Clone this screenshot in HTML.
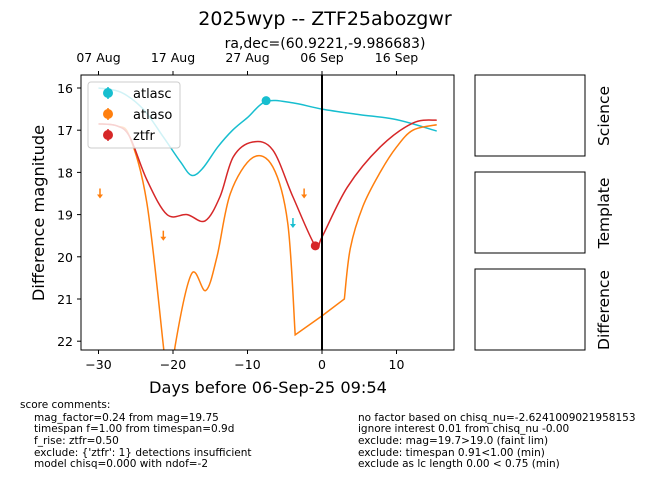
<!DOCTYPE html>
<html><head><meta charset="utf-8"><style>
body{margin:0;background:#fff;font-family:"DejaVu Sans","Liberation Sans",sans-serif;}
svg text{font-family:"DejaVu Sans","Liberation Sans",sans-serif;}
</style></head><body>
<svg id="c" width="650" height="500" viewBox="0 0 650 500" xmlns="http://www.w3.org/2000/svg">
<text x="325" y="25" font-size="19" text-anchor="middle">2025wyp -- ZTF25abozgwr</text>
<text x="325" y="48" font-size="14" text-anchor="middle">ra,dec=(60.9221,-9.986683)</text>
<defs><clipPath id="pc"><rect x="81" y="75" width="373" height="275"/></clipPath></defs>
<g id="plot" clip-path="url(#pc)"></g>
<g id="axes"></g>
<rect x="81" y="75" width="373" height="275" fill="none" stroke="#000" stroke-width="1"/>
<text x="268" y="393" font-size="16.2" text-anchor="middle">Days before 06-Sep-25 09:54</text>
<text transform="translate(44,213) rotate(-90)" font-size="16.2" text-anchor="middle">Difference magnitude</text>
<g>
<rect x="88" y="82" width="92" height="66" rx="3" fill="#fff" fill-opacity="0.8" stroke="#ccc"/>
<line x1="108" y1="87" x2="108" y2="99" stroke="#17becf" stroke-width="1.5"/><circle cx="108" cy="93" r="5" fill="#17becf"/>
<text x="133" y="98" font-size="13">atlasc</text>
<line x1="108" y1="108" x2="108" y2="120" stroke="#ff7f0e" stroke-width="1.5"/><circle cx="108" cy="114" r="5" fill="#ff7f0e"/>
<text x="133" y="119" font-size="13">atlaso</text>
<line x1="108" y1="129" x2="108" y2="141" stroke="#d62728" stroke-width="1.5"/><circle cx="108" cy="135" r="5" fill="#d62728"/>
<text x="133" y="140" font-size="13">ztfr</text>
</g>
<rect x="475" y="75" width="110" height="81" fill="none" stroke="#000"/>
<rect x="475" y="172" width="110" height="81" fill="none" stroke="#000"/>
<rect x="475" y="269" width="110" height="81" fill="none" stroke="#000"/>
<text transform="translate(609,116) rotate(-90)" font-size="15.5" text-anchor="middle">Science</text>
<text transform="translate(609,213) rotate(-90)" font-size="15.5" text-anchor="middle">Template</text>
<text transform="translate(609,310) rotate(-90)" font-size="15.5" text-anchor="middle">Difference</text>
<g font-size="10.5">
<text x="20" y="408">score comments:</text>
<text x="34" y="421">mag_factor=0.24 from mag=19.75</text>
<text x="34" y="432">timespan f=1.00 from timespan=0.9d</text>
<text x="34" y="444">f_rise: ztfr=0.50</text>
<text x="34" y="456">exclude: {'ztfr': 1} detections insufficient</text>
<text x="34" y="467">model chisq=0.000 with ndof=-2</text>
<text x="358" y="421">no factor based on chisq_nu=-2.6241009021958153</text>
<text x="358" y="432">ignore interest 0.01 from chisq_nu -0.00</text>
<text x="358" y="444">exclude: mag=19.7&gt;19.0 (faint lim)</text>
<text x="358" y="456">exclude: timespan 0.91&lt;1.00 (min)</text>
<text x="358" y="467">exclude as lc length 0.00 &lt; 0.75 (min)</text>
</g>
</svg>
<script>
const xTicks=[-30,-20,-10,0,10];
const topTickLabels=["07 Aug","17 Aug","27 Aug","06 Sep","16 Sep"];
const yTicks=[16,17,18,19,20,21,22];
const cyanX=[-30,-27,-24,-21.3,-19,-17.5,-16,-14,-12,-10,-7.5,-4,0,5,10,15.4];
const cyanY=[16.0,16.1,16.5,17.16,17.75,18.07,17.9,17.4,17.0,16.7,16.32,16.35,16.5,16.63,16.75,17.02];
const redX=[-30,-27.5,-25.8,-23.5,-20.8,-18.1,-15.7,-13.7,-11.9,-9.3,-6.6,-3.9,-0.9,0,3.4,7.8,12.2,15.4];
const redY=[16.85,16.9,17.16,18.18,19.0,19.0,19.15,18.58,17.63,17.28,17.47,18.58,19.74,19.53,18.35,17.4,16.83,16.76];
const oraX=[-30,-27.5,-25.8,-23.5,-21.3,-20.5,-19.7,-17.5,-15.6,-14.1,-12.3,-9.3,-6.6,-4.6,-3.6];
const oraY=[16.85,16.9,17.16,18.73,22.1,23.5,22.1,20.4,20.8,20.0,18.5,17.65,17.87,19.2,21.85];
const oraX2=[-3.6,0,3];
const oraY2=[21.85,21.4,21.0];
const oraX3=[3,3.8,5.5,7.8,10,12.2,15.4];
const oraY3=[21.0,19.8,18.8,18.0,17.4,17.0,16.87];
const limX=[-29.8,-21.3,-2.4,-3.9];
const limY=[18.5,19.5,18.5,19.2];
const limBand=["atlaso","atlaso","atlaso","atlasc"];
const detX=[-7.5,-0.9];
const detY=[16.3,19.74];
const detBand=["atlasc","ztfr"];
const colors={atlasc:"#17becf",atlaso:"#ff7f0e",ztfr:"#d62728"};
const X=v=>322+v*7.45, Y=v=>88+(v-16)*42.2;
const NS="http://www.w3.org/2000/svg";
const plot=document.getElementById('plot'), axes=document.getElementById('axes');
function mk(t,a,p){const e=document.createElementNS(NS,t);for(const k in a)e.setAttribute(k,a[k]);p.appendChild(e);return e;}
function smooth(xs,ys){const P=xs.map((x,i)=>[X(x),Y(ys[i])]);let d=`M${P[0][0]},${P[0][1]}`;
for(let i=0;i<P.length-1;i++){const p0=P[Math.max(0,i-1)],p1=P[i],p2=P[i+1],p3=P[Math.min(P.length-1,i+2)];
d+=` C${p1[0]+(p2[0]-p0[0])/6},${p1[1]+(p2[1]-p0[1])/6} ${p2[0]-(p3[0]-p1[0])/6},${p2[1]-(p3[1]-p1[1])/6} ${p2[0]},${p2[1]}`;}return d;}
function line(xs,ys){return xs.map((x,i)=>(i?'L':'M')+X(x)+','+Y(ys[i])).join(' ');}
let e;
e=mk('path',{d:smooth(cyanX,cyanY),fill:'none',stroke:colors.atlasc,'stroke-width':1.5},plot);

e=mk('path',{d:smooth(oraX,oraY)+' '+line(oraX2,oraY2).replace('M','L')+' '+smooth(oraX3,oraY3).replace('M','L'),fill:'none',stroke:colors.atlaso,'stroke-width':1.5},plot);

e=mk('path',{d:smooth(redX,redY),fill:'none',stroke:colors.ztfr,'stroke-width':1.5},plot);

e=mk('line',{x1:X(0),y1:75,x2:X(0),y2:350,stroke:'#000','stroke-width':2},plot);

limX.forEach((x,i)=>{const c=colors[limBand[i]],px=X(x),py=Y(limY[i]);
const g=mk('g',{},plot);

mk('line',{x1:px,y1:py-5,x2:px,y2:py+2,stroke:c,'stroke-width':1.5},g);
mk('path',{d:`M${px-3},${py+1} L${px+3},${py+1} L${px},${py+5} Z`,fill:c},g);});
detX.forEach((x,i)=>{e=mk('circle',{cx:X(x),cy:Y(detY[i]),r:4.5,fill:colors[detBand[i]]},plot);
});
xTicks.forEach((t,i)=>{const px=X(t);
mk('line',{x1:px,y1:350,x2:px,y2:354,stroke:'#000'},axes);
mk('line',{x1:px,y1:75,x2:px,y2:71,stroke:'#000'},axes);
e=mk('text',{x:px,y:369,'font-size':12.5,'text-anchor':'middle'},axes);e.textContent=t===0?'0':(t<0?'\u2212'+(-t):t);

e=mk('text',{x:px,y:62,'font-size':12.5,'text-anchor':'middle'},axes);e.textContent=topTickLabels[i];
});
yTicks.forEach(t=>{const py=Y(t);
mk('line',{x1:81,y1:py,x2:77,y2:py,stroke:'#000'},axes);
e=mk('text',{x:73,y:py+5,'font-size':12.5,'text-anchor':'end'},axes);e.textContent=t;
});
</script>
</body></html>
